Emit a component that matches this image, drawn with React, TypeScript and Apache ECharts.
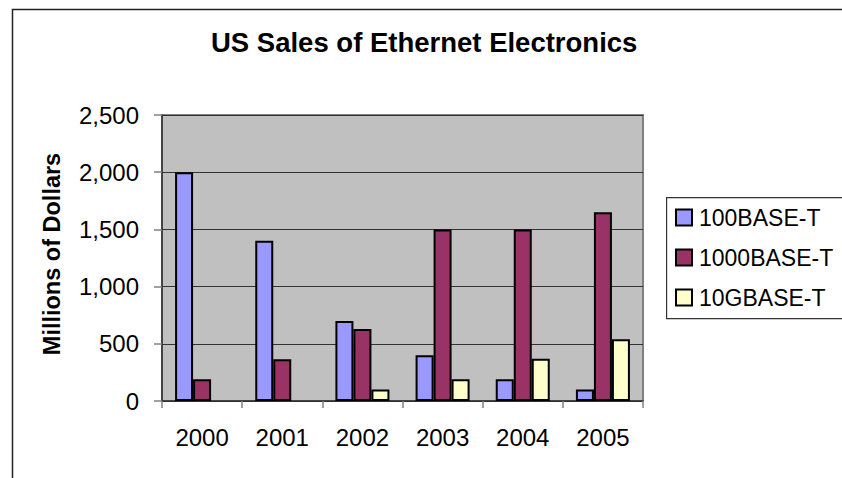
import React, { useEffect, useRef } from "react";
import * as echarts from "echarts";

const years = ["2000", "2001", "2002", "2003", "2004", "2005"];
const seriesNames = ["100BASE-T", "1000BASE-T", "10GBASE-T"];
const sales100 = [2000, 1400, 700, 400, 190, 100];
const sales1000 = [190, 365, 630, 1500, 1500, 1650];
const sales10G: (number | null)[] = [null, null, 100, 190, 370, 540];
const colors = ["#9999FF", "#993366", "#FFFFCC"];
const yMax = 2500;
const yStep = 500;

const FONT = "'Liberation Sans', Arial, sans-serif";

export default function App() {
  const ref = useRef<HTMLDivElement>(null);
  useEffect(() => {
    if (!ref.current) return;
    const chart = echarts.init(ref.current, undefined, { renderer: "svg" });
    const seriesData = [sales100, sales1000, sales10G];
    chart.setOption({
      animation: false,
      backgroundColor: "#ffffff",
      textStyle: { fontFamily: FONT },
      title: {
        text: "US Sales of Ethernet Electronics",
        left: 206,
        top: 23,
        textStyle: { fontFamily: FONT, fontSize: 27.5, fontWeight: "bold", color: "#000" },
      },
      grid: {
        left: 162,
        right: 199,
        top: 115,
        bottom: 77,
        show: true,
        backgroundColor: "#C0C0C0",
        borderColor: "#808080",
        borderWidth: 2,
      },
      legend: {
        orient: "vertical",
        left: 675,
        top: 206,
        padding: 0,
        itemWidth: 16,
        itemHeight: 16,
        itemGap: 17,
        icon: "rect",
        data: seriesNames,
        textStyle: { fontFamily: FONT, fontSize: 23, color: "#000", padding: [0, 0, 0, 2] },
      },
      xAxis: {
        type: "category",
        data: years,
        axisLine: { show: true, lineStyle: { color: "#303030", width: 1.5 } },
        axisTick: { show: true, length: 7, lineStyle: { color: "#808080", width: 1.5 } },
        axisLabel: { fontFamily: FONT, fontSize: 24, color: "#000", margin: 24 },
      },
      yAxis: {
        type: "value",
        min: 0,
        max: yMax,
        interval: yStep,
        axisLine: { show: true, lineStyle: { color: "#303030", width: 1.5 } },
        axisTick: { show: true, length: 8, lineStyle: { color: "#808080", width: 1.5 } },
        axisLabel: {
          fontFamily: FONT,
          fontSize: 24,
          color: "#000",
          margin: 23,
          formatter: (v: number) => v.toLocaleString("en-US"),
        },
        splitLine: { show: true, lineStyle: { color: "#333333", width: 1.2 } },
      },
      graphic: [
        {
          type: "rect",
          left: 10,
          top: 7,
          shape: { width: 900, height: 500 },
          style: { fill: "none", stroke: "#222", lineWidth: 1.5 },
          z: -10,
          silent: true,
        },
        {
          type: "rect",
          left: 666,
          top: 197,
          shape: { width: 200, height: 121 },
          style: { fill: "#fff", stroke: "#333", lineWidth: 1.2 },
          z: 0,
          silent: true,
        },
        {
          type: "text",
          x: 52,
          y: 254,
          rotation: Math.PI / 2,
          style: {
            text: "Millions of Dollars",
            fontFamily: FONT,
            fontSize: 23.5,
            fontWeight: "bold",
            fill: "#000",
            align: "center",
            verticalAlign: "middle",
          },
        },
      ],
      series: seriesNames.map((name, i) => ({
        name,
        type: "bar",
        data: seriesData[i],
        barWidth: 18,
        barGap: "0%",
        itemStyle: { color: colors[i], borderColor: "#000", borderWidth: 2 },
      })),
    });
    return () => chart.dispose();
  }, []);
  return (
    <div
      ref={ref}
      style={{ position: "fixed", left: 0, top: 0, width: 842, height: 478, background: "#fff" }}
    />
  );
}
